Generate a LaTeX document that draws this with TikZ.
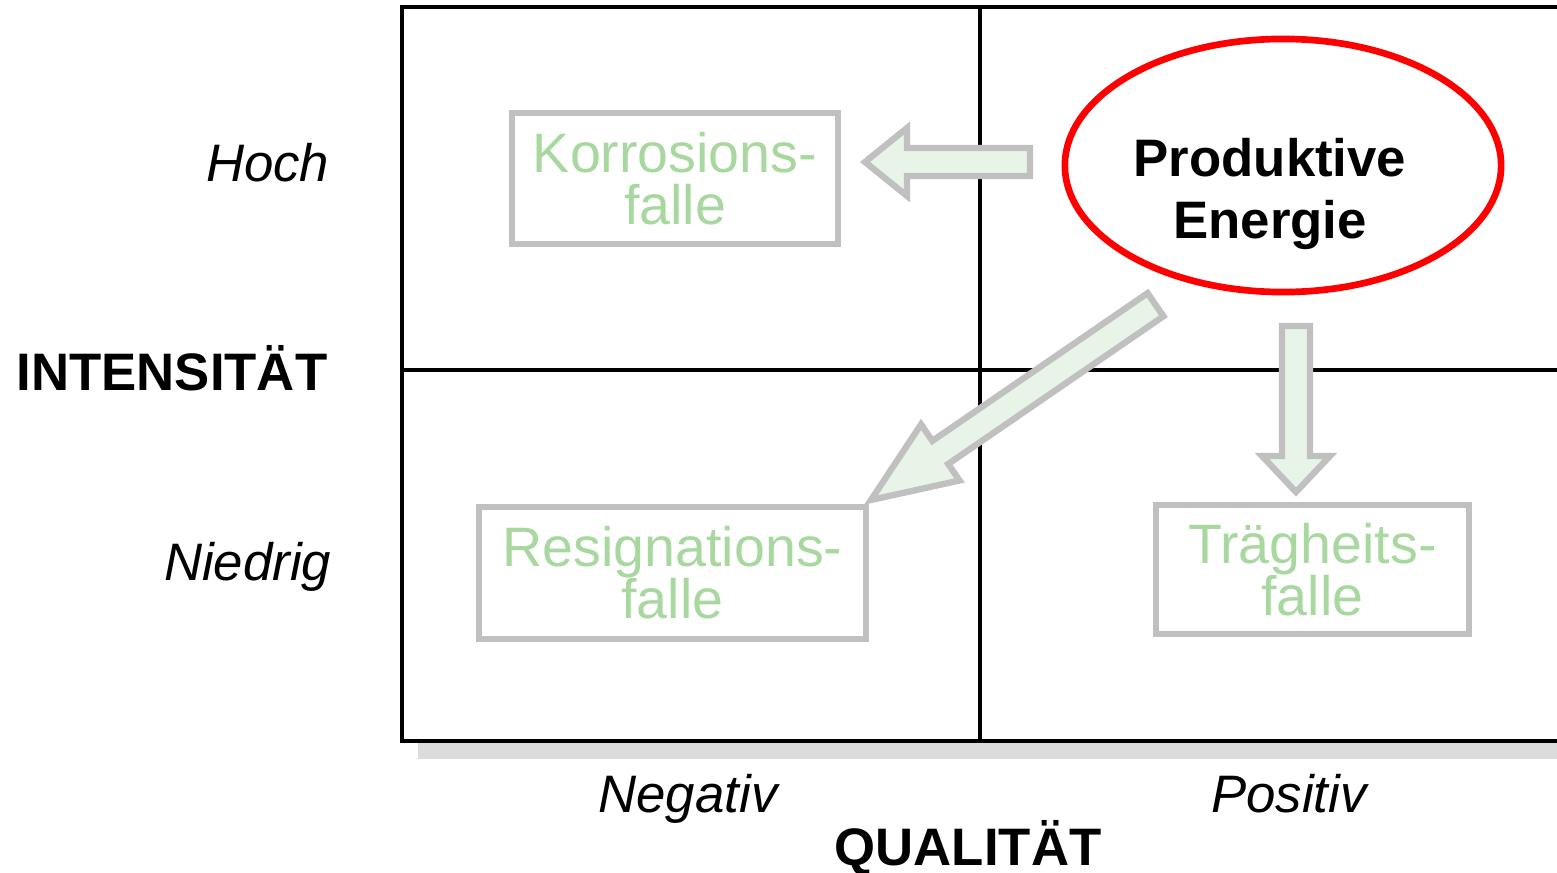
\documentclass[tikz,border=0pt]{standalone}
\usepackage{fontspec}
\setmainfont{Liberation Sans}
\usetikzlibrary{calc, positioning, shapes.geometric}

\definecolor{boxgray}{RGB}{192,192,192}
\definecolor{shadowgray}{RGB}{220,220,220}
\definecolor{arrowgreen}{RGB}{233,244,232}
\definecolor{trapgreen}{RGB}{168,216,160}
\definecolor{ovalred}{RGB}{255,0,0}

\tikzset{
  trap/.style={draw=boxgray, line width=1.9pt, text=trapgreen, align=center,
    inner sep=0pt, font=\fontsize{15.8}{14.8}\selectfont},
  fatarr/.style={draw=boxgray, fill=arrowgreen, line width=1.8pt, line join=miter},
  gridline/.style={line width=1.35pt},
  axislabel/.style={inner sep=0pt, font=\fontsize{15}{15}\selectfont\itshape},
  axistitle/.style={inner sep=0pt, font=\fontsize{15}{15}\selectfont\bfseries}
}

% block arrow: tail, tip, head length
\newcommand{\fatarrow}[3]{%
  \coordinate (fa-h) at ($(#2)!#3!(#1)$);
  \draw[fatarr] ($(#1)!0.14cm!90:(#2)$) -- ($(fa-h)!0.14cm!90:(#2)$)
    -- ($(fa-h)!0.34cm!90:(#2)$) -- (#2) -- ($(fa-h)!0.34cm!-90:(#2)$)
    -- ($(fa-h)!0.14cm!-90:(#2)$) -- ($(#1)!0.14cm!-90:(#2)$) -- cycle;
}

\begin{document}
\begin{tikzpicture}[x=0.01cm, y=-0.01cm]
  \useasboundingbox (0,0) rectangle (1557,873);
  \clip (0,0) rectangle (1557,873);

  % matrix with shadow
  \fill[shadowgray] (418,743) rectangle (1600,759);
  \draw[gridline] (402,7) rectangle (1600,741);
  \draw[gridline] (980,7) -- (980,741);
  \draw[gridline] (402,370) -- (1600,370);

  % traps
  \node[trap, minimum width=3.26cm, minimum height=1.31cm] (korrosion) at (675,178.5) {Korrosions-\\falle};
  \node[trap, minimum width=3.87cm, minimum height=1.32cm] (resignation) at (672.5,573) {Resignations-\\falle};
  \node[trap, minimum width=3.13cm, minimum height=1.29cm] (traegheit) at (1312.5,569.5) {Trägheits-\\falle};

  % productive energy
  \node[draw=ovalred, line width=1.9pt, ellipse, minimum width=4.36cm, minimum height=2.53cm] (oval) at (1283,165.5) {};
  \node[inner sep=0pt, align=center, font=\fontsize{15}{17.4}\selectfont\bfseries] (energie) at (1270,194) {Produktive\\Energie};

  % arrows
  \coordinate (k-tail) at (1030,162);
  \coordinate (k-tip) at (865,162);
  \coordinate (r-tail) at (1155.5,304.7);
  \coordinate (r-tip) at (871,500);
  \coordinate (t-tail) at (1296,326);
  \coordinate (t-tip) at (1296,492);
  \fatarrow{k-tail}{k-tip}{0.42cm}
  \fatarrow{r-tail}{r-tip}{0.84cm}
  \fatarrow{t-tail}{t-tip}{0.36cm}

  % axes
  \node[axislabel, anchor=base east] (hoch) at (330,182) {Hoch};
  \node[axistitle, anchor=base east] (intensitaet) at (328,390) {INTENSITÄT};
  \node[axislabel, anchor=base east] (niedrig) at (332,580) {Niedrig};
  \node[axislabel, anchor=base] (negativ) at (688,812) {Negativ};
  \node[axislabel, anchor=base] (positiv) at (1289,812) {Positiv};
  \node[axistitle, anchor=base] (qualitaet) at (968,865) {QUALITÄT};
\end{tikzpicture}
\end{document}
